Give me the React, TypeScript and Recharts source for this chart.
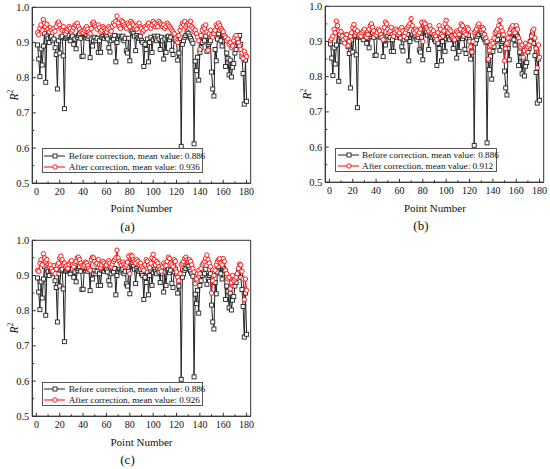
import React from 'react';
import { LineChart, Line, XAxis, YAxis, ReferenceArea } from 'recharts';

const FONT = "'Liberation Serif', 'Times New Roman', serif";

const pointNumbers: number[] = [];
for (let i = 1; i <= 180; i++) pointNumbers.push(i);

const beforeValues = [
  0.893, 0.853, 0.803, 0.882, 0.836, 0.890, 0.925, 0.787, 0.918, 0.912,
  0.900, 0.915, 0.918, 0.905, 0.910, 0.885, 0.866, 0.768, 0.905, 0.870,
  0.915, 0.918, 0.862, 0.712, 0.912, 0.915, 0.918, 0.920, 0.905, 0.915,
  0.918, 0.895, 0.910, 0.882, 0.915, 0.920, 0.925, 0.912, 0.860, 0.861,
  0.918, 0.915, 0.920, 0.912, 0.918, 0.857, 0.910, 0.890, 0.905, 0.915,
  0.905, 0.912, 0.872, 0.905, 0.872, 0.915, 0.918, 0.912, 0.920, 0.916,
  0.910, 0.885, 0.873, 0.905, 0.915, 0.910, 0.920, 0.845, 0.900, 0.912,
  0.918, 0.910, 0.915, 0.918, 0.905, 0.912, 0.876, 0.870, 0.912, 0.848,
  0.935, 0.930, 0.925, 0.918, 0.877, 0.920, 0.915, 0.912, 0.918, 0.905,
  0.900, 0.832, 0.895, 0.880, 0.910, 0.845, 0.900, 0.915, 0.872, 0.908,
  0.918, 0.912, 0.905, 0.918, 0.910, 0.880, 0.915, 0.905, 0.853, 0.910,
  0.872, 0.915, 0.918, 0.908, 0.915, 0.878, 0.866, 0.910, 0.918, 0.905,
  0.850, 0.870, 0.900, 0.605, 0.895, 0.905, 0.915, 0.920, 0.930, 0.925,
  0.918, 0.912, 0.905, 0.898, 0.612, 0.847, 0.820, 0.858, 0.793, 0.872,
  0.885, 0.900, 0.912, 0.905, 0.918, 0.875, 0.895, 0.900, 0.905, 0.816,
  0.768, 0.748, 0.880, 0.848, 0.910, 0.925, 0.935, 0.905, 0.890, 0.920,
  0.915, 0.832, 0.870, 0.855, 0.808, 0.850, 0.802, 0.830, 0.840, 0.870,
  0.880, 0.900, 0.915, 0.920, 0.895, 0.860, 0.812, 0.725, 0.850, 0.733,
];

const afterValuesA = [
  0.928, 0.922, 0.940, 0.950, 0.935, 0.965, 0.955, 0.945, 0.952, 0.938,
  0.930, 0.942, 0.935, 0.928, 0.940, 0.932, 0.945, 0.955, 0.958, 0.950,
  0.940, 0.935, 0.945, 0.930, 0.925, 0.932, 0.938, 0.945, 0.940, 0.930,
  0.935, 0.942, 0.950, 0.948, 0.955, 0.945, 0.938, 0.930, 0.932, 0.928,
  0.935, 0.940, 0.945, 0.938, 0.930, 0.925, 0.940, 0.955, 0.958, 0.950,
  0.945, 0.938, 0.950, 0.942, 0.930, 0.935, 0.945, 0.940, 0.935, 0.930,
  0.938, 0.945, 0.940, 0.932, 0.945, 0.955, 0.950, 0.960, 0.975, 0.955,
  0.945, 0.940, 0.962, 0.958, 0.950, 0.945, 0.940, 0.955, 0.950, 0.945,
  0.960, 0.955, 0.950, 0.940, 0.945, 0.938, 0.950, 0.955, 0.945, 0.940,
  0.930, 0.935, 0.945, 0.940, 0.950, 0.955, 0.945, 0.940, 0.950, 0.960,
  0.955, 0.945, 0.950, 0.945, 0.960, 0.955, 0.950, 0.945, 0.950, 0.940,
  0.945, 0.955, 0.950, 0.945, 0.940, 0.935, 0.930, 0.925, 0.910, 0.905,
  0.900, 0.920, 0.935, 0.945, 0.955, 0.950, 0.960, 0.945, 0.950, 0.955,
  0.950, 0.960, 0.945, 0.940, 0.930, 0.935, 0.925, 0.915, 0.905, 0.880,
  0.920, 0.935, 0.945, 0.940, 0.950, 0.930, 0.878, 0.925, 0.935, 0.920,
  0.915, 0.925, 0.935, 0.950, 0.945, 0.955, 0.948, 0.940, 0.935, 0.930,
  0.920, 0.915, 0.905, 0.910, 0.895, 0.900, 0.885, 0.890, 0.905, 0.915,
  0.920, 0.910, 0.900, 0.890, 0.880, 0.870, 0.855, 0.875, 0.865, 0.860,
];

const afterValuesB = [
  0.903, 0.908, 0.915, 0.935, 0.925, 0.958, 0.945, 0.930, 0.920, 0.928,
  0.915, 0.905, 0.895, 0.910, 0.920, 0.888, 0.900, 0.915, 0.925, 0.940,
  0.948, 0.935, 0.925, 0.930, 0.918, 0.920, 0.915, 0.925, 0.930, 0.935,
  0.915, 0.912, 0.920, 0.935, 0.945, 0.950, 0.940, 0.930, 0.920, 0.918,
  0.925, 0.935, 0.930, 0.920, 0.912, 0.905, 0.940, 0.955, 0.950, 0.935,
  0.925, 0.930, 0.940, 0.920, 0.915, 0.925, 0.935, 0.930, 0.920, 0.925,
  0.935, 0.940, 0.930, 0.915, 0.925, 0.935, 0.940, 0.945, 0.950, 0.965,
  0.945, 0.930, 0.925, 0.935, 0.930, 0.920, 0.925, 0.935, 0.955, 0.900,
  0.955, 0.950, 0.940, 0.935, 0.930, 0.945, 0.935, 0.925, 0.930, 0.920,
  0.915, 0.905, 0.925, 0.945, 0.935, 0.920, 0.915, 0.930, 0.950, 0.960,
  0.940, 0.925, 0.935, 0.930, 0.915, 0.910, 0.905, 0.920, 0.930, 0.925,
  0.920, 0.935, 0.950, 0.945, 0.930, 0.925, 0.920, 0.940, 0.935, 0.900,
  0.885, 0.870, 0.900, 0.925, 0.930, 0.935, 0.945, 0.950, 0.940, 0.935,
  0.940, 0.935, 0.920, 0.910, 0.900, 0.850, 0.875, 0.890, 0.900, 0.895,
  0.910, 0.925, 0.930, 0.935, 0.945, 0.960, 0.940, 0.930, 0.920, 0.845,
  0.880, 0.895, 0.910, 0.925, 0.935, 0.940, 0.945, 0.930, 0.925, 0.945,
  0.935, 0.910, 0.900, 0.885, 0.890, 0.855, 0.875, 0.895, 0.880, 0.885,
  0.890, 0.900, 0.915, 0.930, 0.935, 0.910, 0.880, 0.825, 0.890, 0.855,
];

const afterValuesC = [
  0.915, 0.912, 0.935, 0.945, 0.930, 0.962, 0.950, 0.940, 0.945, 0.930,
  0.925, 0.930, 0.920, 0.912, 0.928, 0.905, 0.918, 0.930, 0.935, 0.950,
  0.955, 0.945, 0.930, 0.935, 0.925, 0.928, 0.920, 0.932, 0.938, 0.942,
  0.930, 0.925, 0.935, 0.940, 0.950, 0.952, 0.945, 0.935, 0.928, 0.925,
  0.930, 0.938, 0.935, 0.928, 0.920, 0.915, 0.945, 0.952, 0.950, 0.940,
  0.932, 0.935, 0.945, 0.930, 0.922, 0.930, 0.940, 0.935, 0.928, 0.930,
  0.938, 0.942, 0.935, 0.925, 0.932, 0.940, 0.945, 0.950, 0.972, 0.950,
  0.940, 0.935, 0.930, 0.938, 0.932, 0.925, 0.930, 0.938, 0.955, 0.905,
  0.958, 0.955, 0.945, 0.940, 0.935, 0.945, 0.940, 0.930, 0.935, 0.925,
  0.920, 0.915, 0.930, 0.945, 0.940, 0.928, 0.922, 0.935, 0.950, 0.960,
  0.945, 0.930, 0.940, 0.935, 0.925, 0.918, 0.912, 0.925, 0.935, 0.930,
  0.928, 0.940, 0.952, 0.948, 0.935, 0.930, 0.925, 0.945, 0.940, 0.910,
  0.895, 0.885, 0.905, 0.930, 0.935, 0.940, 0.948, 0.952, 0.945, 0.940,
  0.945, 0.940, 0.930, 0.920, 0.910, 0.877, 0.890, 0.905, 0.915, 0.905,
  0.920, 0.930, 0.935, 0.940, 0.948, 0.958, 0.945, 0.935, 0.925, 0.850,
  0.885, 0.900, 0.915, 0.930, 0.940, 0.945, 0.948, 0.935, 0.930, 0.948,
  0.940, 0.915, 0.905, 0.890, 0.895, 0.862, 0.880, 0.900, 0.885, 0.890,
  0.895, 0.905, 0.920, 0.932, 0.930, 0.912, 0.890, 0.832, 0.890, 0.858,
];

const xTicks = [0, 10, 20, 30, 40, 50, 60, 70, 80, 90, 100, 110, 120, 130, 140, 150, 160, 170, 180];
const xTickLabels = ['0', '', '20', '', '40', '', '60', '', '80', '', '100', '', '120', '', '140', '', '160', '', '180'];
const yTicks = [0.5, 0.55, 0.6, 0.65, 0.7, 0.75, 0.8, 0.85, 0.9, 0.95, 1.0];
const yTickLabels = ['0.5', '', '0.6', '', '0.7', '', '0.8', '', '0.9', '', '1.0'];

const beforeLabel = 'Before correction, mean value: 0.886';
const afterLabels = ['After correction, mean value: 0.936', 'After correction, mean value: 0.912', 'After correction, mean value: 0.926'];
const panelLetters = ['(a)', '(b)', '(c)'];

const X_DOMAIN: [number, number] = [-3.5, 183.5];
const AXIS_COLOR = '#333';

const XTick = (props: any) => {
  const { x, y, payload, index } = props;
  const label = xTickLabels[index] ?? '';
  const major = label !== '';
  return (
    <g>
      <line x1={x} x2={x} y1={y} y2={y - (major ? 3.5 : 2)} stroke={AXIS_COLOR} strokeWidth={1} />
      {major && (
        <text x={x} y={y + 12} textAnchor="middle" fontSize={10} fontFamily={FONT} fill="#111">
          {label}
        </text>
      )}
    </g>
  );
};

const YTick = (props: any) => {
  const { x, y, index } = props;
  const label = yTickLabels[index] ?? '';
  const major = label !== '';
  return (
    <g>
      <line x1={x} x2={x + (major ? 3.5 : 2)} y1={y} y2={y} stroke={AXIS_COLOR} strokeWidth={1} />
      {major && (
        <text x={x - 3} y={y + 3.5} textAnchor="end" fontSize={10.5} fontFamily={FONT} fill="#111">
          {label}
        </text>
      )}
    </g>
  );
};

const SquareDot = (p: any) => {
  if (p.cx == null || p.cy == null) return <g key={`s${p.index}`} />;
  return (
    <rect key={`s${p.index}`} x={p.cx - 2} y={p.cy - 2} width={4} height={4} fill="#fff" stroke="#222" strokeWidth={0.9} />
  );
};

const CircleDot = (p: any) => {
  if (p.cx == null || p.cy == null) return <g key={`c${p.index}`} />;
  return <circle key={`c${p.index}`} cx={p.cx} cy={p.cy} r={2.2} fill="#fff" stroke="#ff0000" strokeWidth={0.9} />;
};

const LegendRow = ({ top, color, square, text }: { top: number; color: string; square: boolean; text: string }) => (
  <div style={{ position: 'absolute', left: 0, top, height: 10, width: '100%' }}>
    <svg width={22} height={10} style={{ position: 'absolute', left: 1.5, top: 0 }}>
      <line x1={0} x2={21} y1={5} y2={5} stroke={color} strokeWidth={1} />
      {square ? (
        <rect x={9} y={3} width={4} height={4} fill="#fff" stroke={color} strokeWidth={0.9} />
      ) : (
        <circle cx={11} cy={5} r={2.2} fill="#fff" stroke={color} strokeWidth={0.9} />
      )}
    </svg>
    <span style={{ position: 'absolute', left: 26, top: -1, fontSize: 9.2, lineHeight: '12px', whiteSpace: 'nowrap', color: '#111' }}>
      {text}
    </span>
  </div>
);

const Panel = ({ left, top, after, idx }: { left: number; top: number; after: number[]; idx: number }) => {
  const data = pointNumbers.map((x, i) => ({ x, before: beforeValues[i], after: after[i] }));
  return (
    <div style={{ position: 'absolute', left, top, width: 275, height: 235, fontFamily: FONT }}>
      <LineChart width={275} height={200} data={data} margin={{ top: 7.3, right: 24.3, bottom: 0, left: 0 }}>
        <XAxis
          dataKey="x"
          type="number"
          domain={X_DOMAIN}
          ticks={xTicks}
          interval={0}
          tickSize={0}
          tickMargin={0}
          tickLine={false}
          tick={<XTick />}
          axisLine={{ stroke: AXIS_COLOR }}
          height={16.7}
        />
        <YAxis
          type="number"
          domain={[0.5, 1]}
          ticks={yTicks}
          interval={0}
          tickSize={0}
          tickMargin={0}
          tickLine={false}
          tick={<YTick />}
          axisLine={{ stroke: AXIS_COLOR }}
          width={32.3}
        />
        <ReferenceArea x1={X_DOMAIN[0]} x2={X_DOMAIN[1]} y1={0.5} y2={1} fill="none" stroke={AXIS_COLOR} strokeWidth={1} />
        <Line
          type="linear"
          dataKey="before"
          stroke="#222"
          strokeWidth={1}
          dot={SquareDot}
          activeDot={false}
          isAnimationActive={false}
        />
        <Line
          type="linear"
          dataKey="after"
          stroke="#ff0000"
          strokeWidth={1}
          dot={CircleDot}
          activeDot={false}
          isAnimationActive={false}
        />
      </LineChart>
      <div
        style={{
          position: 'absolute',
          left: 12.7,
          top: 95,
          transform: 'translate(-50%, -50%) rotate(-90deg)',
          fontSize: 11.5,
          whiteSpace: 'nowrap',
          color: '#111',
        }}
      >
        <i>R</i>
        <sup style={{ fontSize: 7.5 }}>2</sup>
      </div>
      <div
        style={{
          position: 'absolute',
          left: 141.5,
          top: 208.3,
          transform: 'translate(-50%, -50%)',
          fontSize: 11,
          whiteSpace: 'nowrap',
          color: '#111',
        }}
      >
        Point Number
      </div>
      <div
        style={{
          position: 'absolute',
          left: 127.5,
          top: 227,
          transform: 'translate(-50%, -50%)',
          fontSize: 13,
          whiteSpace: 'nowrap',
          color: '#111',
        }}
      >
        {panelLetters[idx]}
      </div>
      <div
        style={{
          position: 'absolute',
          left: 41.7,
          top: 148.3,
          width: 161.6,
          height: 24.6,
          boxSizing: 'border-box',
          border: '1px solid #555',
          background: '#fff',
        }}
      >
        <LegendRow top={1.5} color="#222" square={true} text={beforeLabel} />
        <LegendRow top={12.5} color="#ff0000" square={false} text={afterLabels[idx]} />
      </div>
    </div>
  );
};

export default function App() {
  return (
    <div style={{ position: 'absolute', left: 0, top: 0, width: 550, height: 469, background: '#fff', overflow: 'hidden' }}>
      <Panel left={0} top={0} after={afterValuesA} idx={0} />
      <Panel left={293.4} top={-0.6} after={afterValuesB} idx={1} />
      <Panel left={0} top={233.4} after={afterValuesC} idx={2} />
    </div>
  );
}
